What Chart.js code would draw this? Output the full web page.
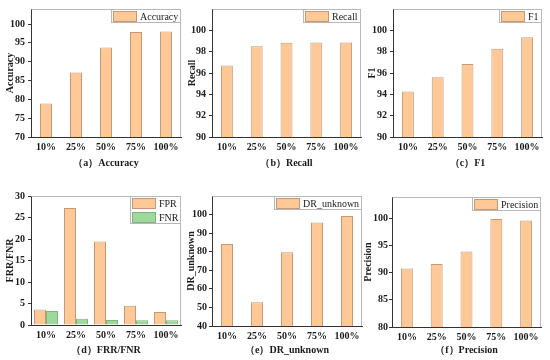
<!DOCTYPE html>
<html>
<head>
<meta charset="utf-8">
<script src="https://cdn.jsdelivr.net/npm/chart.js@4.4.1/dist/chart.umd.min.js"></script>
<style>
  html, body { margin: 0; padding: 0; background: #fff; }
  #wrap { position: relative; width: 550px; height: 360px; }
  canvas { position: absolute; }
</style>
</head>
<body>
<div id="wrap">
  <canvas id="pa"></canvas>
  <canvas id="pb"></canvas>
  <canvas id="pc"></canvas>
  <canvas id="pd"></canvas>
  <canvas id="pe"></canvas>
  <canvas id="pf"></canvas>
</div>
<script>
// ---- data ----
const categories = ['10%', '25%', '50%', '75%', '100%'];
const accuracy   = [78.9, 87.1, 93.8, 97.9, 98.0];
const recall     = [96.7, 98.5, 98.84, 98.86, 98.86];
const f1         = [94.26, 95.6, 96.84, 98.27, 99.36];
const fpr        = [3.6, 27.2, 19.4, 4.5, 3.0];
const fnr        = [3.25, 1.46, 1.16, 1.1, 1.1];
const drUnknown  = [84.2, 52.8, 79.7, 95.7, 99.2];
const precision  = [90.8, 91.65, 93.96, 99.96, 99.65];

const accTicks    = [70, 75, 80, 85, 90, 95, 100];
const recallTicks = [90, 92, 94, 96, 98, 100];
const f1Ticks     = [90, 92, 94, 96, 98, 100];
const rateTicks   = [0, 5, 10, 15, 20, 25, 30];
const drTicks     = [40, 50, 60, 70, 80, 90, 100];
const precTicks   = [80, 85, 90, 95, 100];

// ---- styles ----
const ORANGE = '#FFC896', ORANGE_B = '#C39A78';
const GREEN = '#9DD99C', GREEN_B = '#7DB57C';
const FONT = '"Liberation Serif", "Times New Roman", serif';
const TXT = '#1a1a1a';

const insideLegend = {
  id: 'insideLegend',
  afterDraw(chart) {
    const { ctx, chartArea } = chart;
    const ds = chart.data.datasets;
    ctx.save();
    // frame top/right
    ctx.strokeStyle = '#b8b8b8'; ctx.lineWidth = 1;
    ctx.beginPath();
    ctx.moveTo(Math.round(chartArea.left) + 0.5, Math.round(chartArea.top) + 0.5);
    ctx.lineTo(Math.round(chartArea.right) - 0.5, Math.round(chartArea.top) + 0.5);
    ctx.lineTo(Math.round(chartArea.right) - 0.5, Math.round(chartArea.bottom));
    ctx.stroke();
    ctx.font = '10px ' + FONT;
    const tw = Math.max(...ds.map(d => ctx.measureText(d.label).width));
    const sw = 24, sh = 11, rowH = 14;
    const w = Math.round(2 + sw + 3 + tw + 3), h = ds.length * rowH;
    const x = Math.round(chartArea.right) - w, y = Math.round(chartArea.top);
    ctx.fillStyle = '#fff'; ctx.fillRect(x, y, w, h);
    ctx.strokeStyle = '#b8b8b8'; ctx.strokeRect(x + 0.5, y + 0.5, w - 1, h - 1);
    ds.forEach((d, i) => {
      const ry = y + 2 + i * rowH;
      ctx.fillStyle = d.backgroundColor; ctx.fillRect(x + 2, ry, sw, sh);
      ctx.strokeStyle = d.borderColor; ctx.strokeRect(x + 2.5, ry + 0.5, sw - 1, sh - 1);
      ctx.fillStyle = TXT; ctx.textBaseline = 'middle'; ctx.textAlign = 'left';
      ctx.fillText(d.label, x + 2 + sw + 3, ry + sh / 2 + 0.5);
    });
    ctx.restore();
  }
};

function panel(id, cfg) {
  const cv = document.getElementById(id);
  cv.width = cfg.w; cv.height = cfg.h;
  cv.style.left = cfg.left + 'px'; cv.style.top = cfg.top + 'px';
  cv.style.width = cfg.w + 'px'; cv.style.height = cfg.h + 'px';
  const xH = cfg.h - cfg.plotBottom;
  const single = cfg.datasets.length === 1;
  new Chart(cv, {
    type: 'bar',
    data: {
      labels: categories,
      datasets: cfg.datasets.map(d => ({
        label: d.label, data: d.data,
        backgroundColor: d.bg, borderColor: d.bd, borderWidth: 1,
        categoryPercentage: 0.8, barPercentage: single ? 0.5 : 1.0
      }))
    },
    options: {
      responsive: false, animation: false, devicePixelRatio: 1,
      layout: { padding: { top: cfg.padTop, right: cfg.padRight, left: 0, bottom: 0 } },
      plugins: { legend: { display: false }, tooltip: { enabled: false } },
      scales: {
        x: {
          grid: { display: false, drawTicks: false },
          border: { display: true, color: '#333', width: 1 },
          ticks: { color: TXT, font: { family: FONT, size: 10, weight: 'bold' }, padding: 4, maxRotation: 0 },
          title: { display: true, text: cfg.caption, color: TXT,
                   font: { family: FONT, size: 10, weight: 'bold' }, padding: { top: 0, bottom: cfg.capPad } },
          afterFit: s => { s.height = xH; }
        },
        y: {
          min: cfg.ticks[0], max: cfg.max,
          grid: { display: true, drawOnChartArea: false, drawTicks: true, tickLength: 3, color: '#333' },
          border: { display: true, color: '#333', width: 1 },
          ticks: { color: TXT, font: { family: FONT, size: 10, weight: 'bold' }, padding: cfg.tickPad },
          title: { display: true, text: cfg.ytitle, color: TXT,
                   font: { family: FONT, size: 10, weight: 'bold' }, padding: { top: cfg.yTitlePad, bottom: 0 } },
          afterBuildTicks: s => { s.ticks = cfg.ticks.map(v => ({ value: v })); },
          afterFit: s => { s.width = cfg.yW; }
        }
      }
    },
    plugins: [insideLegend]
  });
}

panel('pa', { left: 0, top: 0, w: 183, h: 175, padTop: 8, padRight: 2, yW: 31, plotBottom: 137,
  yTitlePad: 4, tickPad: 3, capPad: 6, caption: '（a）Accuracy', ytitle: 'Accuracy', ticks: accTicks, max: 104,
  datasets: [{ label: 'Accuracy', data: accuracy, bg: ORANGE, bd: ORANGE_B }] });
panel('pb', { left: 183, top: 0, w: 182, h: 175, padTop: 7, padRight: 4, yW: 29, plotBottom: 137,
  yTitlePad: 3, tickPad: 3, capPad: 6, caption: '（b）Recall', ytitle: 'Recall', ticks: recallTicks, max: 102,
  datasets: [{ label: 'Recall', data: recall, bg: ORANGE, bd: ORANGE_B }] });
panel('pc', { left: 365, top: 0, w: 185, h: 175, padTop: 6, padRight: 8, yW: 28, plotBottom: 137,
  yTitlePad: 1, tickPad: 3, capPad: 6, caption: '（c）F1', ytitle: 'F1', ticks: f1Ticks, max: 102,
  datasets: [{ label: 'F1', data: f1, bg: ORANGE, bd: ORANGE_B }] });
panel('pd', { left: 0, top: 180, w: 183, h: 180, padTop: 16, padRight: 2, yW: 31, plotBottom: 145,
  yTitlePad: 4, tickPad: 3, capPad: 4, caption: '（d）FRR/FNR', ytitle: 'FRR/FNR', ticks: rateTicks, max: 30,
  datasets: [{ label: 'FPR', data: fpr, bg: ORANGE, bd: ORANGE_B },
             { label: 'FNR', data: fnr, bg: GREEN, bd: GREEN_B }] });
panel('pe', { left: 183, top: 180, w: 182, h: 180, padTop: 16, padRight: 3, yW: 29, plotBottom: 146,
  yTitlePad: 2, tickPad: 2, capPad: 4, caption: '（e）DR_unknown', ytitle: 'DR_unknown', ticks: drTicks, max: 110,
  datasets: [{ label: 'DR_unknown', data: drUnknown, bg: ORANGE, bd: ORANGE_B }] });
panel('pf', { left: 362, top: 180, w: 188, h: 180, padTop: 17, padRight: 9, yW: 30, plotBottom: 147,
  yTitlePad: 0, tickPad: 1, capPad: 4, caption: '（f）Precision', ytitle: 'Precision', ticks: precTicks, max: 104,
  datasets: [{ label: 'Precision', data: precision, bg: ORANGE, bd: ORANGE_B }] });
</script>
</body>
</html>
